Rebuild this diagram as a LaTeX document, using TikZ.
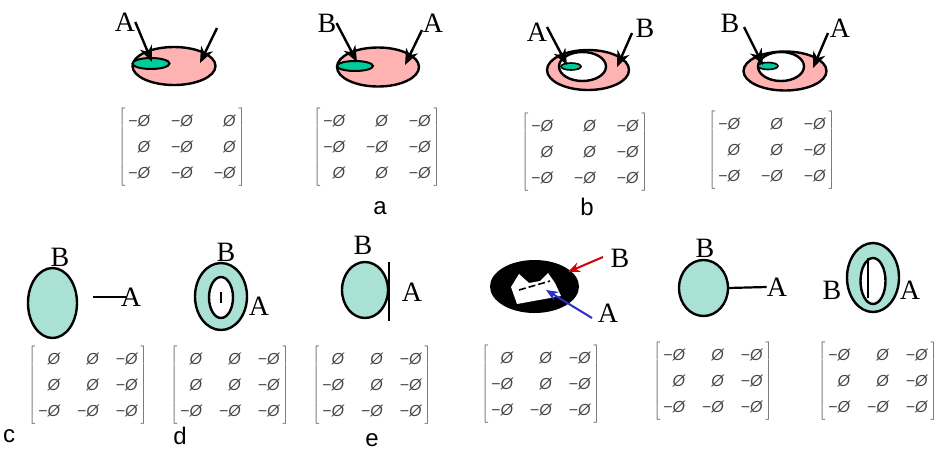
\documentclass[tikz,border=0pt]{standalone}
\usepackage[no-math]{fontspec}
\setmainfont{Liberation Serif}
\newfontfamily\capfont{Liberation Sans}
\newfontfamily\setglyphs{Liberation Sans}
\usetikzlibrary{shapes.geometric,arrows.meta}

\definecolor{rosefill}{RGB}{255,178,178}
\definecolor{mintcore}{RGB}{0,204,153}
\definecolor{dotfill}{RGB}{170,225,213}
\definecolor{mtxgray}{RGB}{70,70,70}
\definecolor{ptrred}{RGB}{215,0,0}
\definecolor{ptrblue}{RGB}{45,45,205}

% 3x3 sign matrix of empty sets
\newcommand{\posset}{{\setglyphs\itshape Ø}}
\newcommand{\negset}{{\setglyphs −}\posset}
\newcommand{\matgap}{21pt}
\newcommand{\signmatrix}[9]{$\left[\begin{tabular}{@{\hspace{3pt}}r@{\hspace{\matgap}}r@{\hspace{\matgap}}r@{\hspace{3pt}}}#1&#2&#3\\#4&#5&#6\\#7&#8&#9\end{tabular}\right]$}

\tikzset{
  region/.style={ellipse, draw, line width=2.4pt, inner sep=0pt, outer sep=0pt},
  tag/.style={inner sep=0pt, font=\fontsize{28}{28}\selectfont},
  caption/.style={inner sep=0pt, font=\capfont\fontsize{24}{24}\selectfont},
  signs/.style={inner sep=0pt, text=mtxgray, font=\fontsize{16}{26}\selectfont},
  pointer/.style={line width=2.4pt, -{Stealth[length=16pt,width=13pt]}},
  thinpointer/.style={line width=2pt, -{Stealth[length=12pt,width=10pt]}},
  stroke/.style={line width=2.2pt}
}

\begin{document}
\begin{tikzpicture}[x=1pt,y=-1pt]
\useasboundingbox (0,0) rectangle (934,451);

% ---------- top row, first pair ----------
\node[region, fill=rosefill, minimum width=83pt, minimum height=38pt] (rose1) at (174,66) {};
\node[region, fill=mintcore, line width=2pt, minimum width=37pt, minimum height=11pt] (mint1) at (151,63.5) {};
\node[tag] (a1) at (125,22) {A};
\coordinate (a1h) at (152,62);
\draw[pointer] (a1.east) -- (a1h);
\coordinate (r1t) at (217,28);
\coordinate (r1h) at (200,63);
\draw[pointer] (r1t) -- (r1h);
\node[signs] (m1) at (182,147) {\signmatrix{\negset}{\negset}{\posset}{\posset}{\negset}{\posset}{\negset}{\negset}{\negset}};

\node[region, fill=rosefill, minimum width=82pt, minimum height=39pt] (rose2) at (378,67) {};
\node[region, fill=mintcore, line width=2pt, minimum width=36pt, minimum height=10pt] (mint2) at (355,66) {};
\node[tag] (b2) at (327,23) {B};
\coordinate (b2h) at (357,62);
\draw[pointer] (b2.east) -- (b2h);
\node[tag] (a2) at (433,23) {A};
\coordinate (a2t) at (422,30);
\coordinate (a2h) at (405,65);
\draw[pointer] (a2t) -- (a2h);
\node[signs] (m2) at (377,147) {\signmatrix{\negset}{\posset}{\negset}{\negset}{\negset}{\negset}{\posset}{\posset}{\negset}};
\node[caption] (capa) at (380,208) {a};

% ---------- top row, second pair ----------
\node[region, fill=rosefill, minimum width=82pt, minimum height=40pt] (rose3) at (588,70) {};
\node[region, fill=white, minimum width=47pt, minimum height=29pt] (hole3) at (582.5,66.5) {};
\node[region, fill=mintcore, line width=1.6pt, minimum width=20pt, minimum height=7pt] (mint3) at (571,66.5) {};
\node[tag] (a3) at (537,32) {A};
\coordinate (a3t) at (547,27);
\coordinate (a3h) at (567,65);
\draw[pointer] (a3t) -- (a3h);
\node[tag] (b3) at (645,28) {B};
\coordinate (b3t) at (632,33);
\coordinate (b3h) at (617,67);
\draw[pointer] (b3t) -- (b3h);
\node[signs] (m3) at (585,152) {\signmatrix{\negset}{\posset}{\negset}{\posset}{\posset}{\negset}{\negset}{\negset}{\negset}};
\node[caption] (capb) at (587,207) {b};

\node[region, fill=rosefill, minimum width=83pt, minimum height=39pt] (rose4) at (785,71) {};
\node[region, fill=white, minimum width=46pt, minimum height=29pt] (hole4) at (781,66.5) {};
\node[region, fill=mintcore, line width=1.6pt, minimum width=20pt, minimum height=7pt] (mint4) at (768,66) {};
\node[tag] (b4) at (730,23) {B};
\coordinate (b4t) at (744,27);
\coordinate (b4h) at (763,65);
\draw[pointer] (b4t) -- (b4h);
\node[tag] (a4) at (840,28) {A};
\coordinate (a4t) at (828,33);
\coordinate (a4h) at (813,68);
\draw[pointer] (a4t) -- (a4h);
\node[signs] (m4) at (772,150) {\signmatrix{\negset}{\posset}{\negset}{\posset}{\posset}{\negset}{\negset}{\negset}{\negset}};

% ---------- bottom row (slightly narrower matrices) ----------
\renewcommand{\matgap}{17pt}

% c: region and detached line
\node[region, fill=dotfill, minimum width=49pt, minimum height=70pt] (regc) at (52.5,303) {};
\node[tag] (bc) at (60,257) {B};
\node[tag] (ac) at (131,297) {A};
\coordinate (lc) at (93,297);
\draw[stroke] (lc) -- ([xshift=5pt]ac.west);
\node[signs] (mc) at (88,385) {\signmatrix{\posset}{\posset}{\negset}{\posset}{\posset}{\negset}{\negset}{\negset}{\negset}};
\node[caption] (capc) at (9,436) {c};

% d: ring with a line in the hole
\node[region, fill=dotfill, minimum width=52pt, minimum height=67pt] (regd) at (221,296.5) {};
\node[region, fill=white, minimum width=24pt, minimum height=41pt] (holed) at (221,297.5) {};
\coordinate (ld1) at (221,292);
\coordinate (ld2) at (221,303);
\draw[stroke] (ld1) -- (ld2);
\node[tag] (bd) at (226,252) {B};
\node[tag] (ad) at (259,306) {A};
\node[signs] (md) at (230,385) {\signmatrix{\posset}{\posset}{\negset}{\posset}{\posset}{\negset}{\negset}{\negset}{\negset}};
\node[caption] (capd) at (180,436) {d};

% e: region touching a line
\node[region, fill=dotfill, minimum width=46pt, minimum height=56pt] (rege) at (365,290) {};
\coordinate (le1) at (389,262);
\coordinate (le2) at (389,321);
\draw[stroke] (le1) -- (le2);
\node[tag] (be) at (363,245) {B};
\node[tag] (ae) at (412,292) {A};
\node[signs] (me) at (372,385) {\signmatrix{\posset}{\posset}{\negset}{\negset}{\posset}{\negset}{\negset}{\negset}{\negset}};
\node[caption] (cape) at (372,440) {e};

% black region with a white hole and a dashed line
\node[ellipse, fill=black, inner sep=0pt, minimum width=89pt, minimum height=53pt] (regk) at (534.5,286.5) {};
\fill[white] (511,287) -- (519,274) -- (529,283) -- (540,281) -- (548,273) -- (555,283) -- (561,296) -- (517,304) -- cycle;
\coordinate (lk1) at (519,290);
\coordinate (lk2) at (550,281);
\draw[line width=1.6pt, dash pattern=on 7pt off 3pt] (lk1) -- (lk2);
\node[tag] (bk) at (620,258) {B};
\node[tag] (ak) at (608,313) {A};
\coordinate (bkt) at (603,257);
\coordinate (bkh) at (568,272);
\draw[thinpointer, ptrred] (bkt) -- (bkh);
\coordinate (akt) at (592,318);
\coordinate (akh) at (546,290);
\draw[thinpointer, ptrblue] (akt) -- (akh);
\node[signs] (mk) at (541,384) {\signmatrix{\posset}{\posset}{\negset}{\negset}{\posset}{\negset}{\negset}{\negset}{\negset}};

% region with an attached line
\node[region, fill=dotfill, minimum width=49pt, minimum height=56pt] (regf) at (703.5,288) {};
\node[tag] (bf) at (705,248) {B};
\node[tag] (af) at (777,287) {A};
\draw[stroke] (regf.east) -- (af.west);
\node[signs] (mf) at (713,381) {\signmatrix{\negset}{\posset}{\negset}{\posset}{\posset}{\negset}{\negset}{\negset}{\negset}};

% ring with a line on the hole boundary
\node[region, fill=dotfill, minimum width=52pt, minimum height=69pt] (regg) at (873,277.5) {};
\node[region, fill=white, minimum width=25pt, minimum height=46pt] (holeg) at (873,281) {};
\coordinate (lg1) at (868,258);
\coordinate (lg2) at (868,298);
\draw[stroke] (lg1) -- (lg2);
\node[tag] (bg) at (832,290) {B};
\node[tag] (ag) at (910,290) {A};
\node[signs] (mg) at (878,381) {\signmatrix{\negset}{\posset}{\negset}{\posset}{\posset}{\negset}{\negset}{\negset}{\negset}};
\end{tikzpicture}
\end{document}
